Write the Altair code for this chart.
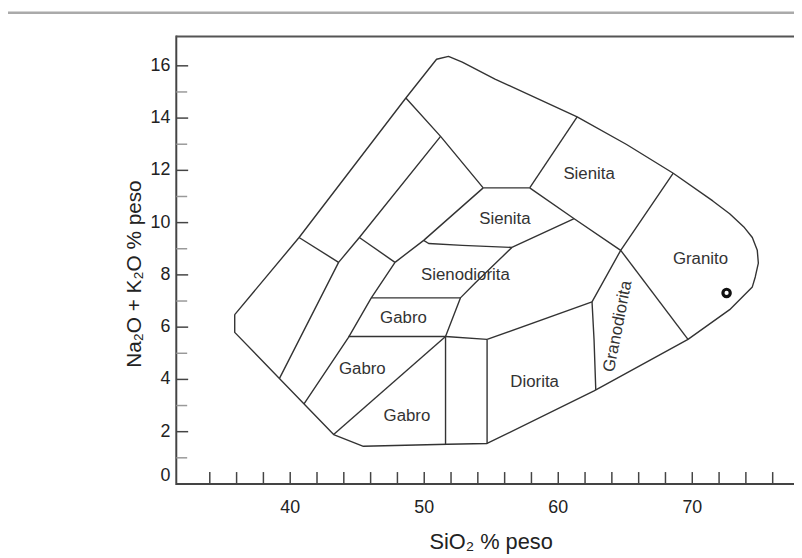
import altair as alt
import pandas as pd

# ---------------- data (SiO2 wt%, Na2O+K2O wt%) ----------------
x_domain = [31.5, 77.59]
y_domain = [0, 17.16]

outer_x = [35.86, 40.66, 48.63, 50.92, 51.81, 52.84, 55.28, 61.41, 65.10, 68.58, 71.53, 72.79,
           73.89, 74.48, 74.85, 74.93, 74.70, 74.48, 72.79, 69.68, 62.67, 54.69, 51.74, 45.46,
           43.24, 35.86, 35.86]
outer_y = [6.48, 9.43, 14.77, 16.25, 16.36, 16.14, 15.49, 14.05, 12.99, 11.89, 10.83, 10.34,
           9.81, 9.43, 8.94, 8.45, 7.92, 7.54, 6.67, 5.53, 3.56, 1.55, 1.52, 1.44,
           1.89, 5.80, 6.48]

inner_lines = {
    "rung1": ([40.66, 43.61], [9.43, 8.48]),
    "strip1": ([51.22, 45.16, 43.61, 39.20], [13.30, 9.43, 8.48, 4.04]),
    "upper": ([48.63, 51.22, 54.40], [14.77, 13.30, 11.33]),
    "rung2": ([45.16, 47.82], [9.43, 8.48]),
    "sien_left": ([47.82, 49.96, 54.40], [8.48, 9.32, 11.33]),
    "gabro_left": ([47.82, 46.05, 44.35, 41.03], [8.48, 7.12, 5.61, 3.06]),
    "sien_top": ([54.40, 57.87], [11.33, 11.33]),
    "sien_up": ([57.87, 61.41], [11.33, 14.05]),
    "sien_right": ([57.87, 61.19, 64.66], [11.33, 10.15, 8.94]),
    "syen_gran": ([68.58, 64.66, 62.52], [11.89, 8.94, 6.97]),
    "grd_left": ([62.52, 62.67, 62.80], [6.97, 5.53, 3.60]),
    "grd_right": ([64.66, 69.68], [8.94, 5.53]),
    "sien_bottom": ([49.96, 50.33, 52.84, 56.54], [9.32, 9.20, 9.13, 9.05]),
    "sdio_right": ([61.19, 56.54, 53.80, 52.70, 51.59], [10.15, 9.05, 7.69, 7.12, 5.64]),
    "gabro_top": ([46.05, 52.70], [7.12, 7.12]),
    "mid_h": ([44.35, 51.59, 54.69], [5.64, 5.64, 5.53]),
    "dio_top": ([54.69, 62.52], [5.53, 6.97]),
    "vert1": ([51.59, 51.59], [5.64, 1.52]),
    "vert2": ([54.69, 54.69], [5.53, 1.55]),
    "diag": ([51.59, 43.24], [5.64, 1.89]),
}

label_text = ["Sienita", "Sienita", "Sienodiorita", "Gabro", "Gabro", "Gabro", "Diorita", "Granito"]
label_x = [62.3, 56.02, 53.07, 48.45, 45.38, 48.71, 58.24, 70.61]
label_y = [11.86, 10.15, 7.99, 6.33, 4.39, 2.58, 3.90, 8.60]
rot_label_text = ["Granodiorita"]
rot_label_x = [64.44]
rot_label_y = [6.03]

sample_x = [72.56]
sample_y = [7.31]

x_ticks = [34, 36, 38, 40, 42, 44, 46, 48, 50, 52, 54, 56, 58, 60, 62, 64, 66, 68, 70, 72, 74, 76]
x_labels = [40, 50, 60, 70]
y_ticks_major = [0, 2, 4, 6, 8, 10, 12, 14, 16]
y_ticks_minor = [1, 3, 5, 7, 9, 11, 13, 15]

x_title = "SiO\u2082 % peso"
y_title = "Na\u2082O + K\u2082O % peso"

# ---------------- build ----------------
W, H = 624, 453
FONT = "Liberation Sans"
xs = alt.Scale(domain=x_domain, nice=False, zero=False)
ys = alt.Scale(domain=y_domain, nice=False, zero=False)

rows = []
for i, (x, y) in enumerate(zip(outer_x, outer_y)):
    rows.append({"line": "outer", "o": i, "x": x, "y": y})
for name, (lx, ly) in inner_lines.items():
    for i, (x, y) in enumerate(zip(lx, ly)):
        rows.append({"line": name, "o": i, "x": x, "y": y})
lines_df = pd.DataFrame(rows)

X = lambda f="x": alt.X(f"{f}:Q", scale=xs, axis=None)
Y = lambda f="y": alt.Y(f"{f}:Q", scale=ys, axis=None)

lines = alt.Chart(lines_df).mark_line(color="#333", strokeWidth=1.4, strokeJoin="round").encode(
    x=X(), y=Y(), detail="line:N", order="o:Q")

labels = alt.Chart(pd.DataFrame({"t": label_text, "x": label_x, "y": label_y})).mark_text(
    font=FONT, fontSize=17, color="#333", align="center", baseline="middle").encode(
    x=X(), y=Y(), text="t:N")

rot_labels = alt.Chart(pd.DataFrame({"t": rot_label_text, "x": rot_label_x, "y": rot_label_y})).mark_text(
    font=FONT, fontSize=17, color="#333", align="center", baseline="middle", angle=281).encode(
    x=X(), y=Y(), text="t:N")

sample = alt.Chart(pd.DataFrame({"x": sample_x, "y": sample_y})).mark_point(
    shape="circle", filled=False, size=55, strokeWidth=3.2, color="#111", opacity=1).encode(x=X(), y=Y())

one = pd.DataFrame({"a": [0]})
frame_left = alt.Chart(one).mark_rule(color="#444", strokeWidth=2).encode(
    x=alt.value(0), y=alt.value(0), y2=alt.value(H + 1))
frame_bottom = alt.Chart(one).mark_rule(color="#444", strokeWidth=2).encode(
    x=alt.value(0), x2=alt.value(W), y=alt.value(H))
frame_top = alt.Chart(one).mark_rule(color="#555", strokeWidth=2).encode(
    x=alt.value(0), x2=alt.value(W), y=alt.value(1))
page_rule = alt.Chart(one).mark_rule(color="#aaa", strokeWidth=2.5).encode(
    x=alt.value(-172), x2=alt.value(W), y=alt.value(-23))

xt = alt.Chart(pd.DataFrame({"v": x_ticks})).mark_rule(color="#444", strokeWidth=1.5).encode(
    x=X("v"), y=alt.value(H), y2=alt.value(H - 12))
ytM = alt.Chart(pd.DataFrame({"v": y_ticks_major})).mark_rule(color="#444", strokeWidth=1.5).encode(
    y=Y("v"), x=alt.value(0), x2=alt.value(12))
ytm = alt.Chart(pd.DataFrame({"v": y_ticks_minor})).mark_rule(color="#999", strokeWidth=1.5).encode(
    y=Y("v"), x=alt.value(0), x2=alt.value(11))

xl = alt.Chart(pd.DataFrame({"v": x_labels})).mark_text(
    font=FONT, fontSize=18, color="#222", align="center", baseline="alphabetic").encode(
    x=X("v"), y=alt.value(H + 29), text="v:Q")
yl_df = pd.DataFrame({"v": y_ticks_major})
yl = alt.Chart(yl_df).transform_filter("datum.v > 0").mark_text(
    font=FONT, fontSize=18, color="#222", align="right", baseline="middle").encode(
    y=Y("v"), x=alt.value(-6), text="v:Q")
yl0 = alt.Chart(yl_df).transform_filter("datum.v == 0").mark_text(
    font=FONT, fontSize=18, color="#222", align="right", baseline="middle", dy=-8).encode(
    y=Y("v"), x=alt.value(-6), text="v:Q")

xtitle = alt.Chart(pd.DataFrame({"t": [x_title]})).mark_text(
    font=FONT, fontSize=22, color="#222", align="center", baseline="alphabetic").encode(
    x=alt.value(318), y=alt.value(519), text="t:N")
ytitle = alt.Chart(pd.DataFrame({"t": [y_title]})).mark_text(
    font=FONT, fontSize=21, color="#222", align="center", baseline="middle", angle=270).encode(
    x=alt.value(-42), y=alt.value(241), text="t:N")

chart = alt.layer(
    page_rule, lines, labels, rot_labels, sample, frame_left, frame_bottom, frame_top,
    xt, ytM, ytm, xl, yl, yl0, xtitle, ytitle
).properties(
    width=W, height=H,
    autosize=alt.AutoSizeParams(type="none"),
    padding={"left": 170, "top": 25, "right": 0, "bottom": 70},
).configure_view(stroke=None)

chart.save("out.html", embed_options={"renderer": "svg", "actions": False})
